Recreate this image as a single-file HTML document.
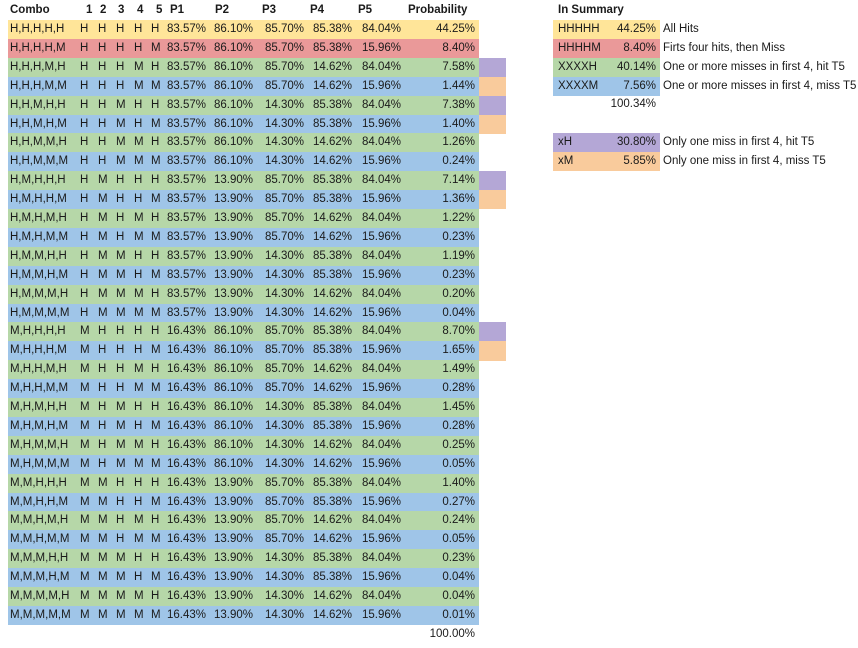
<!DOCTYPE html>
<html><head><meta charset="utf-8"><style>
body{margin:0;width:858px;height:648px;background:#fff;font-family:"Liberation Sans",sans-serif;font-size:11.5px;color:#1a1a1a;position:relative;overflow:hidden}
div.c{position:absolute;white-space:nowrap;line-height:19px;height:19px}
.b{font-weight:bold}
.r{text-align:right}
.bg{position:absolute}
</style></head><body>
<div id="t"></div>
<div id="s"></div>
<script>
const probs=[44.25,8.40,7.58,1.44,7.38,1.40,1.26,0.24,7.14,1.36,1.22,0.23,1.19,0.23,0.20,0.04,8.70,1.65,1.49,0.28,1.45,0.28,0.25,0.05,1.40,0.27,0.24,0.05,0.23,0.04,0.04,0.01];
const hitP=["83.57%","86.10%","85.70%","85.38%","84.04%"];
const missP=["16.43%","13.90%","14.30%","14.62%","15.96%"];
const sideMarks={2:"#b4a7d6",3:"#f9cb9c",4:"#b4a7d6",5:"#f9cb9c",8:"#b4a7d6",9:"#f9cb9c",16:"#b4a7d6",17:"#f9cb9c"};
const summaryLabels=["HHHHH","HHHHM","XXXXH","XXXXM"];
const summaryVals=["44.25%","8.40%","40.14%","7.56%"];
const summaryDesc=["All Hits","Firts four hits, then Miss","One or more misses in first 4, hit T5","One or more misses in first 4, miss T5"];
const summaryColors=["#ffe599","#ea9999","#b6d7a8","#9fc5e8"];
const oneLabels=["xH","xM"];const oneVals=["30.80%","5.85%"];
const oneDesc=["Only one miss in first 4, hit T5","Only one miss in first 4, miss T5"];
const oneColors=["#b4a7d6","#f9cb9c"];

const T=document.getElementById('t'),S=document.getElementById('s');
const RH=18.9,Y0=20;
function cell(par,txt,x,y,w,cls,name){const d=document.createElement('div');d.className='c '+(cls||'');d.style.left=x+'px';d.style.top=y+'px';if(w)d.style.width=w+'px';d.textContent=txt;


par.appendChild(d);return d;}
function box(par,x,y,w,h,col,name){const d=document.createElement('div');d.className='bg';d.style.cssText=`left:${x}px;top:${y}px;width:${w}px;height:${h}px;background:${col}`;


par.appendChild(d);}
const hy=1;
cell(T,"Combo",10,hy,0,'b','header-combo');
[86,100,118,137,156].forEach((x,i)=>cell(T,String(i+1),x,hy,0,'b','header-turn-'+(i+1)));
[170,215,262,310,358].forEach((x,i)=>cell(T,"P"+(i+1),x,hy,0,'b','header-p'+(i+1)));
cell(T,"Probability",408,hy,0,'b','header-probability');
const pcolRight=[206,253,304,352,401];
for(let i=0;i<32;i++){
 const bits=[];for(let k=4;k>=0;k--)bits.push((i>>k)&1?'M':'H');
 const y=Y0+i*RH;
 const col=i==0?'#ffe599':i==1?'#ea9999':bits[4]=='H'?'#b6d7a8':'#9fc5e8';
 box(T,8,y,471,RH+0.5,col,'row-bg-'+(i+1));
 if(sideMarks[i])box(T,479,y,27,RH+0.5,sideMarks[i],'side-mark-'+(i+1));
 cell(T,bits.join(','),10,y,0,'','combo-'+(i+1));
 [84,102,120,138,155].forEach((x,k)=>cell(T,bits[k],x-4,y,0,'','turn-'+(k+1)+'-row-'+(i+1)));
 pcolRight.forEach((r,k)=>cell(T,bits[k]=='H'?hitP[k]:missP[k],r-50,y,50,'r','p'+(k+1)+'-row-'+(i+1)));
 cell(T,probs[i].toFixed(2)+'%',405,y,70,'r','probability-row-'+(i+1));
}
cell(T,"100.00%",405,Y0+32*RH,70,'r','probability-total');
cell(S,"In Summary",558,1,0,'b','summary-title');
summaryLabels.forEach((l,i)=>{const y=Y0+i*RH;box(S,553,y,107,RH+0.5,summaryColors[i],'summary-bg-'+l);
cell(S,l,558,y,0,'','summary-label-'+l);cell(S,summaryVals[i],596,y,60,'r','summary-value-'+l);cell(S,summaryDesc[i],663,y,0,'','summary-desc-'+l);});
cell(S,"100.34%",596,Y0+4*RH-1,60,'r','summary-total');
oneLabels.forEach((l,i)=>{const y=133+i*RH;box(S,553,y,107,RH+0.5,oneColors[i],'one-miss-bg-'+l);
cell(S,l,558,y,0,'','one-miss-label-'+l);cell(S,oneVals[i],596,y,60,'r','one-miss-value-'+l);cell(S,oneDesc[i],663,y,0,'','one-miss-desc-'+l);});
</script>
</body></html>
